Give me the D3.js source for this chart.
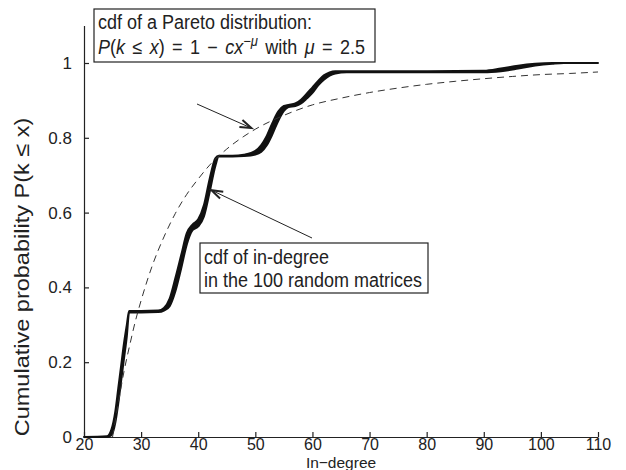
<!DOCTYPE html>
<html>
<head>
<meta charset="utf-8">
<script src="https://cdn.jsdelivr.net/npm/d3@7"></script>
<style>
  html, body { margin: 0; padding: 0; background: #fff; }
  svg text { font-family: "Liberation Sans", Arial, Helvetica, sans-serif; fill: #222; }
</style>
</head>
<body>
<svg id="chart" width="626" height="470"></svg>
<script>
// In-degree values where the band of empirical cdfs is sampled
const degree = [20, 24, 24.8, 25.5, 26, 26.5, 27, 27.5, 27.9, 30, 33, 34, 35, 36, 37, 38, 39, 40, 41, 42, 43, 43.6, 46, 48, 50, 51, 52, 53, 54, 55, 55.8, 57, 58, 59, 60, 61, 62, 63, 64, 66, 80, 90, 93, 96, 99, 102, 104, 110];
// Lower and upper envelope of the 100 cdf curves
const cdfLow  = [0, 0, 0.005, 0.04, 0.09, 0.15, 0.21, 0.27, 0.333, 0.333, 0.334, 0.338, 0.35, 0.39, 0.45, 0.515, 0.553, 0.563, 0.59, 0.655, 0.725, 0.75, 0.75, 0.751, 0.755, 0.762, 0.78, 0.81, 0.845, 0.872, 0.882, 0.885, 0.892, 0.905, 0.92, 0.94, 0.955, 0.966, 0.972, 0.975, 0.975, 0.975, 0.978, 0.985, 0.993, 0.998, 1, 1];
const cdfHigh = [0, 0.002, 0.02, 0.07, 0.13, 0.19, 0.25, 0.3, 0.337, 0.337, 0.338, 0.345, 0.37, 0.425, 0.485, 0.545, 0.568, 0.582, 0.62, 0.69, 0.745, 0.752, 0.752, 0.755, 0.765, 0.78, 0.805, 0.84, 0.87, 0.885, 0.888, 0.892, 0.902, 0.918, 0.935, 0.952, 0.967, 0.975, 0.978, 0.978, 0.978, 0.979, 0.985, 0.993, 0.998, 1, 1, 1];

// Pareto cdf, P(k <= x) = 1 - c x^-2.5, sampled along the in-degree axis
const paretoX = [25, 26, 27, 28, 29, 30, 32, 34, 36, 38, 40, 42, 45, 48, 50, 55, 60, 65, 70, 75, 80, 85, 90, 95, 100, 105, 110];
const paretoP = [0, 0.09, 0.175, 0.245, 0.31, 0.365, 0.46, 0.535, 0.598, 0.649, 0.69, 0.727, 0.77, 0.804, 0.823, 0.86, 0.888, 0.906, 0.921, 0.933, 0.943, 0.951, 0.958, 0.964, 0.969, 0.972, 0.976];

const xTicks = [20, 30, 40, 50, 60, 70, 80, 90, 100, 110];
const yTicks = [0, 0.2, 0.4, 0.6, 0.8, 1];

const svg = d3.select("#chart");
const XTICK_FS = 16, YTICK_FS = 17, BOX_FS = 18;
const TALL = 1.1;   // box text is drawn slightly taller than wide

const x = d3.scaleLinear().domain([20, 110]).range([84, 598]);
const y = d3.scaleLinear().domain([0, 1.1]).range([437, 437 - 1.1 * 374]);

// Axes with inward ticks
const xAxis = d3.axisBottom(x).tickValues(xTicks).tickFormat(d3.format("d"))
  .tickSizeInner(-5).tickSizeOuter(0).tickPadding(2);
const yAxis = d3.axisLeft(y).tickValues(yTicks).tickFormat(d => d === 0 || d === 1 ? String(d) : d3.format(".1f")(d))
  .tickSizeInner(-5).tickSizeOuter(0).tickPadding(12);

const gx = svg.append("g").attr("transform", "translate(0,437)").call(xAxis);
const gy = svg.append("g").attr("transform", "translate(84,0)").call(yAxis);
[gx, gy].forEach(g => g.selectAll("path, line").attr("stroke", "#222").attr("stroke-width", 1.2));
gx.selectAll("text").style("font-size", XTICK_FS + "px").attr("fill", "#222");
gy.selectAll("text").style("font-size", YTICK_FS + "px").attr("fill", "#222");

// Text drawn in a group so that it can be stretched vertically
function tallText(parent, tx, ty, size, sy) {
  return parent.append("g").attr("transform", `translate(${tx},${ty}) scale(1,${sy})`)
    .append("text").style("font-size", size + "px");
}

// Axis titles
svg.append("text").attr("x", 341).attr("y", 468).attr("text-anchor", "middle")
  .style("font-size", "15.5px").text("In\u2212degree");
svg.append("g").attr("transform", "translate(29,277) rotate(-90) scale(1.12,1)")
  .append("text").attr("text-anchor", "middle").style("font-size", "21px")
  .text("Cumulative probability P(k \u2264 x)");

// Band of empirical cdfs
const band = degree.map((d, i) => ({ d, lo: cdfLow[i], hi: cdfHigh[i] }));
svg.append("path").datum(band)
  .attr("d", d3.area().x(p => x(p.d)).y0(p => y(p.lo)).y1(p => y(p.hi)).curve(d3.curveMonotoneX))
  .attr("fill", "#111").attr("stroke", "#111").attr("stroke-width", 2).attr("stroke-linejoin", "round");

// Pareto reference curve
const pareto = paretoX.map((d, i) => ({ d, p: paretoP[i] }));
svg.append("path").datum(pareto)
  .attr("d", d3.line().x(p => x(p.d)).y(p => y(p.p)).curve(d3.curveMonotoneX))
  .attr("fill", "none").attr("stroke", "#333").attr("stroke-width", 1).attr("stroke-dasharray", "7,5");

// Annotation boxes
function box(x0, y0, w, h) {
  svg.append("rect").attr("x", x0).attr("y", y0).attr("width", w).attr("height", h)
    .attr("fill", "#fff").attr("stroke", "#222").attr("stroke-width", 1.2);
}
box(94, 9, 281, 53);
tallText(svg, 98, 29, BOX_FS, TALL).text("cdf of a Pareto distribution:");
const l2 = tallText(svg, 98, 54, BOX_FS, TALL).style("word-spacing", "2.4px");
l2.append("tspan").style("font-style", "italic").text("P");
l2.append("tspan").text("(");
l2.append("tspan").style("font-style", "italic").text("k");
l2.append("tspan").text(" \u2264 ");
l2.append("tspan").style("font-style", "italic").text("x");
l2.append("tspan").text(") = 1 \u2212 ");
l2.append("tspan").style("font-style", "italic").text("cx");
l2.append("tspan").attr("dy", -7).style("font-size", "13px").text("\u2212");
l2.append("tspan").style("font-size", "13px").style("font-style", "italic").text("\u03bc");
l2.append("tspan").attr("dy", 7).text(" with ");
l2.append("tspan").style("font-style", "italic").text("\u03bc");
l2.append("tspan").text(" = 2.5");

box(200, 243, 228, 50);
tallText(svg, 204, 264, BOX_FS, TALL).text("cdf of in-degree");
tallText(svg, 204, 287, BOX_FS, TALL).text("in the 100 random matrices");

// Arrows pointing at the curves
function arrow(x1, y1, x2, y2) {
  svg.append("line").attr("x1", x1).attr("y1", y1).attr("x2", x2).attr("y2", y2)
    .attr("stroke", "#222").attr("stroke-width", 1);
  const a = Math.atan2(y2 - y1, x2 - x1), L = 12, s = 0.32;
  const pts = [
    [x2 - L * Math.cos(a - s), y2 - L * Math.sin(a - s)],
    [x2, y2],
    [x2 - L * Math.cos(a + s), y2 - L * Math.sin(a + s)]
  ];
  svg.append("path").attr("d", d3.line()(pts)).attr("fill", "none")
    .attr("stroke", "#222").attr("stroke-width", 2).attr("stroke-linejoin", "miter");
}
arrow(197, 104, x(49.3), y(0.826));
arrow(312, 238, x(42.3), y(0.66));
</script>
</body>
</html>
